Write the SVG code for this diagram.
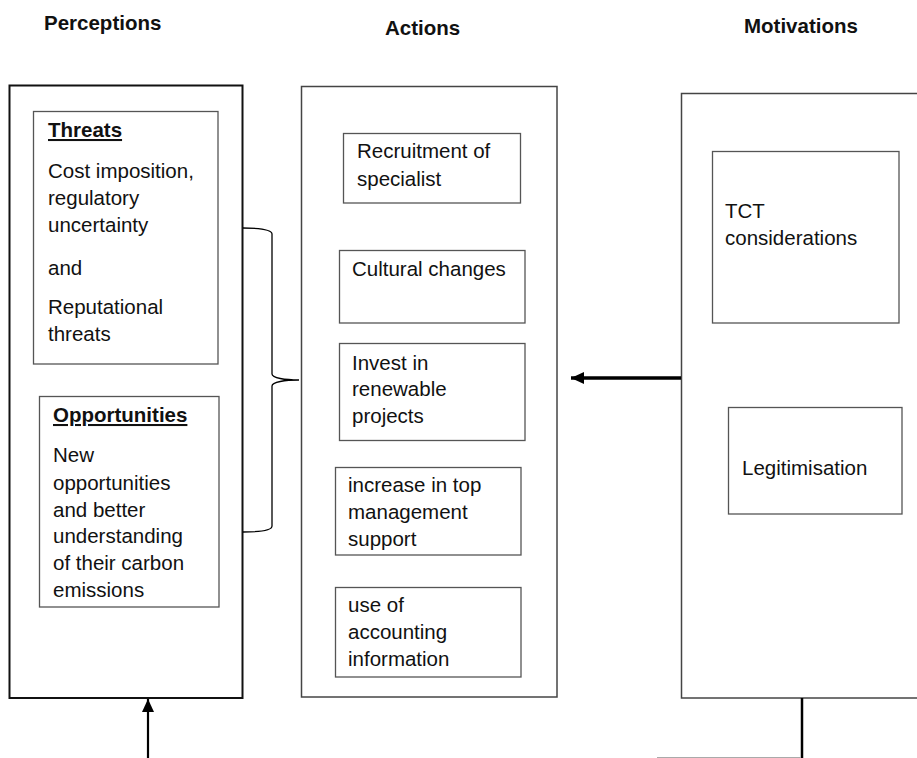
<svg xmlns="http://www.w3.org/2000/svg" width="917" height="758" viewBox="0 0 917 758">
<style>
text{font-family:"Liberation Sans",Arial,sans-serif;font-size:20.5px;fill:#111}
.h{font-weight:bold}
.u{font-weight:bold;text-decoration:underline}
.box{fill:#fff;stroke:#555;stroke-width:1.3}
.outer{fill:#fff;stroke:#444;stroke-width:1.5}
.conn{fill:none;stroke:#000}
</style>
<defs>
<marker id="ah" markerUnits="userSpaceOnUse" markerWidth="14" markerHeight="14" refX="13" refY="6" orient="auto">
<path d="M0,0 L13,6 L0,12 Z" fill="#000"/>
</marker>
</defs>
<rect width="917" height="758" fill="#fff"/>
<text class="h" x="44" y="30">Perceptions</text>
<text class="h" x="385" y="35">Actions</text>
<text class="h" x="744" y="33">Motivations</text>

<g id="perceptions">
<rect x="9.5" y="85.5" width="233" height="612.5" fill="#fff" stroke="#111" stroke-width="2"/>
</g>
<g id="threats">
<rect class="box" x="33.5" y="111.5" width="184.5" height="252.5"/>
<text class="u" x="48" y="137">Threats</text>
<text x="48" y="178">Cost imposition,</text>
<text x="48" y="205">regulatory</text>
<text x="48" y="232">uncertainty</text>
<text x="48" y="275">and</text>
<text x="48" y="314">Reputational</text>
<text x="48" y="341">threats</text>
</g>
<g id="opportunities">
<rect class="box" x="39.5" y="396.5" width="179.5" height="210.5"/>
<text class="u" x="53" y="422">Opportunities</text>
<text x="53" y="462">New</text>
<text x="53" y="490">opportunities</text>
<text x="53" y="517">and better</text>
<text x="53" y="543">understanding</text>
<text x="53" y="570">of their carbon</text>
<text x="53" y="597">emissions</text>
</g>

<g id="actions">
<rect class="outer" x="301.5" y="86.5" width="255.5" height="610.5"/>
</g>
<g id="recruitment">
<rect class="box" x="343.5" y="133.5" width="177" height="69.5"/>
<text x="357" y="158">Recruitment of</text>
<text x="357" y="186">specialist</text>
</g>
<g id="cultural">
<rect class="box" x="339.5" y="250.5" width="185.5" height="72.5"/>
<text x="352" y="276">Cultural changes</text>
</g>
<g id="invest">
<rect class="box" x="339.5" y="343.5" width="185.5" height="97"/>
<text x="352" y="370">Invest in</text>
<text x="352" y="396">renewable</text>
<text x="352" y="423">projects</text>
</g>
<g id="topmgmt">
<rect class="box" x="335.5" y="467.5" width="185.5" height="87.5"/>
<text x="348" y="492">increase in top</text>
<text x="348" y="519">management</text>
<text x="348" y="546">support</text>
</g>
<g id="accounting">
<rect class="box" x="335.5" y="587.5" width="185.5" height="89.5"/>
<text x="348" y="612">use of</text>
<text x="348" y="639">accounting</text>
<text x="348" y="666">information</text>
</g>

<g id="motivations">
<rect class="outer" x="681.5" y="93.5" width="260" height="604.5"/>
</g>
<g id="tct">
<rect class="box" x="712.5" y="151.5" width="186.5" height="171.5"/>
<text x="725" y="218">TCT</text>
<text x="725" y="245">considerations</text>
</g>
<g id="legitimisation">
<rect class="box" x="728.5" y="407.5" width="173.5" height="106.5"/>
<text x="742" y="475">Legitimisation</text>
</g>

<g id="connectors">
<path class="conn" stroke="#777" stroke-width="1.3" d="M243,228 C258,228 272,229 272,234 L272,374 C272,378 285,380 299,380 C285,380 272,382 272,386 L272,526 C272,531 258,532 243,532"/>
<line class="conn" x1="681" y1="378" x2="571" y2="378" stroke-width="3.5" marker-end="url(#ah)"/>
<line class="conn" x1="148" y1="758" x2="148" y2="699" stroke-width="2.2" marker-end="url(#ah)"/>
<line class="conn" x1="802" y1="698" x2="802" y2="758" stroke-width="2.5"/>
<line x1="657" y1="757.5" x2="801" y2="757.5" stroke="#aaa" stroke-width="1"/>
</g>
</svg>
